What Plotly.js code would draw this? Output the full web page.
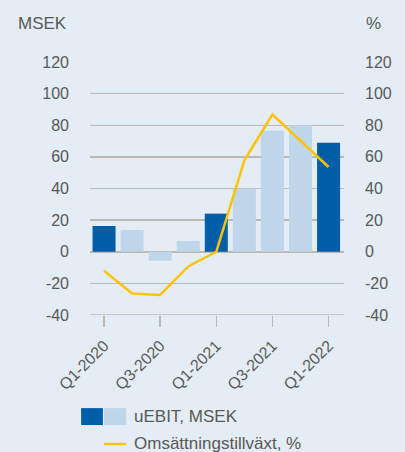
<!DOCTYPE html>
<html>
<head>
<meta charset="utf-8">
<script src="https://cdn.plot.ly/plotly-3.0.1.min.js"></script>
<style>
  html, body { margin: 0; padding: 0; background: #e4ecf5; }
  #chart { width: 405px; height: 452px; }
</style>
</head>
<body>
<div id="chart"></div>
<script>
// Quarterly data
const quarters = ['Q1-2020', 'Q2-2020', 'Q3-2020', 'Q4-2020', 'Q1-2021', 'Q2-2021', 'Q3-2021', 'Q4-2021', 'Q1-2022'];
const uebit = [16.3, 13.8, -5.7, 6.8, 24.1, 40, 76.6, 80, 69];
const growth = [-12, -26.4, -27.3, -9.3, 0, 57.8, 86.8, 70, 53.6];
const shownTicks = ['Q1-2020', 'Q3-2020', 'Q1-2021', 'Q3-2021', 'Q1-2022'];
const yTicks = [-40, -20, 0, 20, 40, 60, 80, 100, 120];
// plain hyphen for negatives, like the original
const yTickText = yTicks.map(v => String(v));

const darkBlue = '#005ea8';
const lightBlue = '#bfd6ea';
const yellow = '#ffc400';
const gridColor = '#bdb8b0';
const textColor = '#595959';
const bg = '#e4ecf5';

// Q1 quarters are highlighted in dark blue
const barColors = quarters.map(q => q.startsWith('Q1') ? darkBlue : lightBlue);

const bars = {
    x: quarters,
    y: uebit,
    type: 'bar',
    marker: { color: barColors },
    name: 'uEBIT, MSEK',
    hoverinfo: 'skip'
};

const line = {
    x: quarters,
    y: growth,
    type: 'scatter',
    mode: 'lines',
    yaxis: 'y2',
    line: { color: yellow, width: 2.5 },
    name: 'Omsättningstillväxt, %',
    hoverinfo: 'skip'
};

const family = 'Liberation Sans, Arial, sans-serif';
const tickFont = { family: family, size: 16, color: textColor };
const labelFont = { family: family, size: 17, color: textColor };

const layout = {
    width: 405,
    height: 452,
    paper_bgcolor: bg,
    plot_bgcolor: bg,
    font: tickFont,
    showlegend: false,
    bargap: 0.18,
    margin: { l: 90, r: 61, t: 62, b: 137 },
    xaxis: {
        type: 'category',
        range: [-0.5, 8.55],
        tickvals: shownTicks,
        ticktext: shownTicks,
        tickangle: -45,
        ticks: 'outside',
        ticklen: 11,
        tickwidth: 1.5,
        tickcolor: gridColor,
        ticklabelstandoff: 3,
        showline: false,
        showgrid: false,
        zeroline: false,
        tickfont: { family: family, size: 16, color: textColor }
    },
    yaxis: {
        range: [-40, 120],
        tickvals: yTicks,
        ticktext: yTickText,
        showgrid: true,
        gridcolor: gridColor,
        gridwidth: 1.5,
        zeroline: true,
        zerolinecolor: gridColor,
        zerolinewidth: 1.5,
        ticks: '',
        ticklabelstandoff: 20,
        tickfont: tickFont
    },
    yaxis2: {
        range: [-40, 120],
        tickvals: yTicks,
        ticktext: yTickText,
        overlaying: 'y',
        side: 'right',
        showgrid: false,
        zeroline: false,
        ticks: '',
        ticklabelstandoff: 20,
        tickfont: tickFont
    },
    annotations: [
        { text: 'MSEK', xref: 'paper', yref: 'paper', x: -0.29, y: 1.154, xanchor: 'left', yanchor: 'middle', showarrow: false, font: labelFont },
        { text: '%', xref: 'paper', yref: 'paper', x: 1.08, y: 1.154, xanchor: 'left', yanchor: 'middle', showarrow: false, font: labelFont },
        { text: 'uEBIT, MSEK', xref: 'paper', yref: 'paper', x: 0.164, y: -0.403, xanchor: 'left', yanchor: 'middle', showarrow: false, font: labelFont },
        { text: 'Omsättningstillväxt, %', xref: 'paper', yref: 'paper', x: 0.164, y: -0.506, xanchor: 'left', yanchor: 'middle', showarrow: false, font: labelFont }
    ],
    shapes: [
        // bottom axis line at -40
        { type: 'line', xref: 'paper', yref: 'y', x0: 0, x1: 1, y0: -40, y1: -40, line: { color: gridColor, width: 1.5 } },
        // legend swatches
        { type: 'rect', xref: 'paper', yref: 'paper', x0: -0.035, x1: 0.051, y0: -0.368, y1: -0.435, fillcolor: darkBlue, line: { width: 0 } },
        { type: 'rect', xref: 'paper', yref: 'paper', x0: 0.055, x1: 0.142, y0: -0.368, y1: -0.435, fillcolor: lightBlue, line: { width: 0 } },
        { type: 'line', xref: 'paper', yref: 'paper', x0: 0.055, x1: 0.142, y0: -0.51, y1: -0.51, line: { color: yellow, width: 2.5 } }
    ]
};

Plotly.newPlot('chart', [bars, line], layout, { displayModeBar: false, staticPlot: true });
</script>
</body>
</html>
